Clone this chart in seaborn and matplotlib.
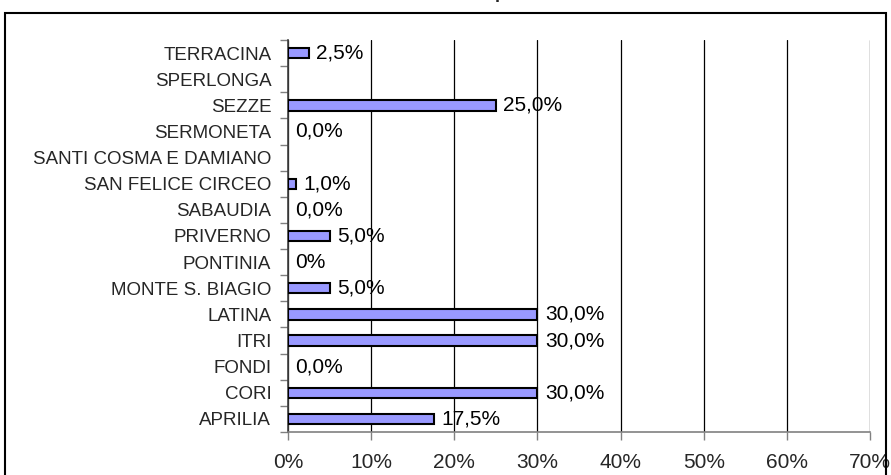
import numpy as np
import pandas as pd
import matplotlib
matplotlib.use('Agg')
import matplotlib.pyplot as plt
import seaborn as sns
from matplotlib.patches import Rectangle
from matplotlib.ticker import FuncFormatter

# Data (bottom to top as in the chart)
comuni = ['APRILIA', 'CORI', 'FONDI', 'ITRI', 'LATINA', 'MONTE S. BIAGIO',
          'PONTINIA', 'PRIVERNO', 'SABAUDIA', 'SAN FELICE CIRCEO',
          'SANTI COSMA E DAMIANO', 'SERMONETA', 'SEZZE', 'SPERLONGA', 'TERRACINA']
percentuali = [17.5, 30.0, 0.0, 30.0, 30.0, 5.0, 0.0, 5.0, 0.0, 1.0,
               0.0, 0.0, 25.0, 0.0, 2.5]
etichette = ['17,5%', '30,0%', '0,0%', '30,0%', '30,0%', '5,0%', '0%', '5,0%',
             '0,0%', '1,0%', '', '0,0%', '25,0%', '', '2,5%']
x_ticks = [0, 10, 20, 30, 40, 50, 60, 70]

df = pd.DataFrame({'comune': comuni, 'perc': percentuali, 'label': etichette})
order = comuni[::-1]  # seaborn puts the first category on top

sns.set_style('white')
plt.rcParams['font.family'] = ['Liberation Sans', 'DejaVu Sans']

fig = plt.figure(figsize=(8.91, 4.75), dpi=100)
ax = fig.add_axes([288 / 891, 1 - 432 / 475, (870 - 288) / 891, (432 - 40) / 475])

# Bars
sns.barplot(data=df, x='perc', y='comune', order=order, orient='h',
            color='#9999FF', edgecolor='black', linewidth=1.5, width=0.4,
            saturation=1, ax=ax, zorder=3)

# zero-length bars are not drawn in the original
for p in ax.patches:
    if p.get_width() == 0:
        p.set_visible(False)

# Value labels
for i, name in enumerate(order):
    row = df[df['comune'] == name].iloc[0]
    if row['label']:
        ax.text(row['perc'] + 0.9, i, row['label'], va='center', ha='left',
                fontsize=15, color='black', zorder=4)

# Axes formatting
ax.set_xlim(x_ticks[0], x_ticks[-1])
ax.set_ylim(len(comuni) - 0.5, -0.5)
ax.set_xticks(x_ticks)
ax.xaxis.set_major_formatter(FuncFormatter(lambda v, p: '{:.0f}%'.format(v)))
ax.set_xlabel('')
ax.set_ylabel('')
ax.grid(axis='x', color='black', linewidth=0.9, zorder=0)
ax.grid(axis='y', visible=False)

ax.tick_params(axis='x', which='major', length=6, width=1, color='#808080',
               labelsize=15, pad=9, direction='out', bottom=True)
ax.tick_params(axis='y', which='major', length=0, labelsize=13.5, pad=12)
ax.set_yticks(np.arange(-0.5, len(comuni), 1), minor=True)
ax.tick_params(axis='y', which='minor', length=6, width=1, color='#808080',
               direction='out', left=True)

for s in ['top', 'right']:
    ax.spines[s].set_visible(False)
ax.spines['left'].set_color('#404040')
ax.spines['bottom'].set_color('#808080')
ax.spines['left'].set_linewidth(1.2)
ax.spines['bottom'].set_linewidth(1.2)

# Outer chart frame (bottom edge falls outside the image)
fig.add_artist(Rectangle((5 / 891, -0.1), (886 - 5) / 891, 1.1 - 13 / 475,
                         transform=fig.transFigure, fill=False,
                         edgecolor='black', linewidth=1.5))

# Title cut off at the top edge: only a descender remains visible
fig.text(500 / 891, 1.0 + 2 / 475, 'p', ha='center', va='baseline', fontsize=13,
         fontweight='bold')

fig.savefig('out.png', dpi=100)
